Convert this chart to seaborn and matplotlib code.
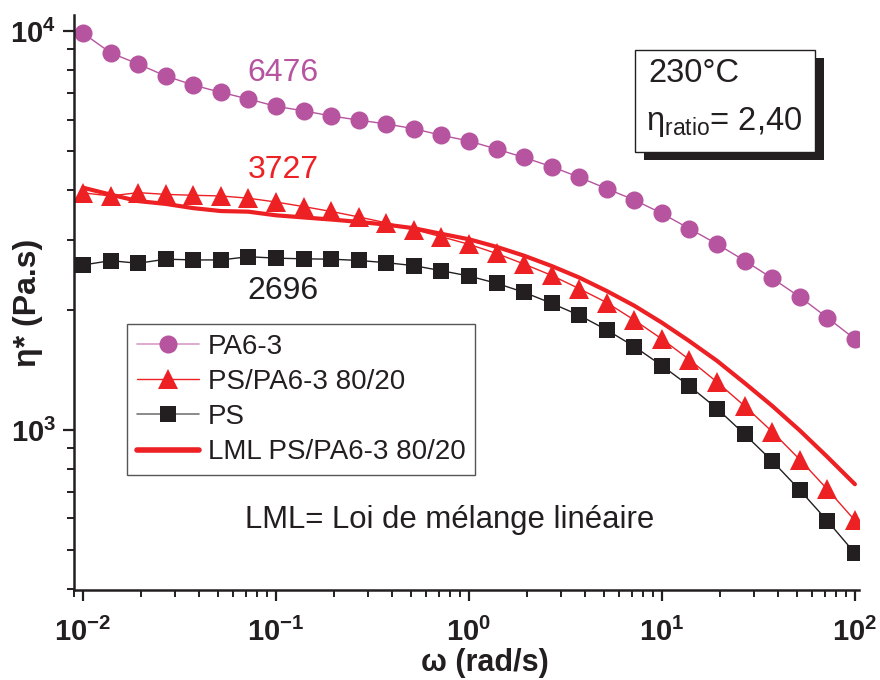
import numpy as np
import pandas as pd
import seaborn as sns
import matplotlib.pyplot as plt
from matplotlib.patches import Rectangle
from matplotlib.lines import Line2D
from matplotlib.ticker import LogLocator, NullFormatter

# angular frequency (rad/s), 7 points per decade
omega = [0.01, 0.01389, 0.01931, 0.02683, 0.03728, 0.05179, 0.07197,
         0.1, 0.1389, 0.1931, 0.2683, 0.3728, 0.5179, 0.7197,
         1.0, 1.389, 1.931, 2.683, 3.728, 5.179, 7.197,
         10.0, 13.89, 19.31, 26.83, 37.28, 51.79, 71.97, 100.0]

# complex viscosity eta* (Pa.s)
eta_pa6 = [9880, 8822, 8265, 7715, 7320, 7020, 6754, 6476, 6310, 6125,
           5980, 5850, 5690, 5480, 5300, 5060, 4820, 4570, 4300, 4025,
           3770, 3490, 3195, 2924, 2657, 2400, 2155, 1912, 1690]
eta_blend = [3930, 3860, 3935, 3895, 3875, 3860, 3810, 3727, 3630, 3530,
             3420, 3305, 3180, 3050, 2920, 2770, 2605, 2440, 2260, 2085,
             1885, 1690, 1500, 1318, 1148, 990, 843, 710, 593]
eta_ps = [2591, 2657, 2617, 2680, 2668, 2668, 2718, 2696, 2685, 2680,
          2660, 2626, 2582, 2507, 2432, 2332, 2213, 2077, 1938, 1781,
          1618, 1449, 1288, 1131, 975, 836, 707, 592, 491]
eta_lml = [4049, 3890, 3747, 3687, 3598, 3538, 3525, 3452, 3410, 3369,
           3324, 3271, 3204, 3102, 3006, 2878, 2734, 2576, 2410, 2230,
           2048, 1857, 1669, 1490, 1311, 1149, 997, 856, 731]

series_names = ["PA6-3", "PS/PA6-3 80/20", "PS", "LML PS/PA6-3 80/20"]
value_labels = ["6476", "3727", "2696"]

PURPLE = "#B6549F"
RED = "#ED2024"
BLACK = "#231F20"

sns.set_theme(style="ticks")
plt.rcParams["font.family"] = ["Liberation Sans", "DejaVu Sans"]
plt.rcParams["mathtext.fontset"] = "custom"
plt.rcParams["mathtext.rm"] = "Liberation Sans"
plt.rcParams["mathtext.it"] = "Liberation Sans:italic"
plt.rcParams["mathtext.bf"] = "Liberation Sans:bold"
plt.rcParams["axes.unicode_minus"] = False

fig = plt.figure(figsize=(8.8, 6.8), dpi=100)
W, H = 880, 680
ax = fig.add_axes([74 / W, 1 - 590 / H, (859 - 74) / W, (590 - 15) / H])

common = dict(ax=ax, estimator=None, legend=False, markeredgewidth=0)
sns.lineplot(x=omega, y=eta_pa6, color=PURPLE, lw=1.0, marker="o",
             markersize=13, markeredgecolor=PURPLE, **common)
sns.lineplot(x=omega, y=eta_ps, color=BLACK, lw=1.0, marker="s",
             markersize=12, markeredgecolor=BLACK, **common)
sns.lineplot(x=omega, y=eta_blend, color=RED, lw=1.0, marker="^",
             markersize=14, markeredgecolor=RED, **common)
sns.lineplot(x=omega, y=eta_lml, color=RED, lw=3.0, **common)

ax.set_xscale("log")
ax.set_yscale("log")
ax.set_xlim(0.00898, 105)
ax.set_ylim(397, 10970)

for axis in (ax.xaxis, ax.yaxis):
    axis.set_major_locator(LogLocator(base=10))
    axis.set_minor_locator(LogLocator(base=10, subs=np.arange(2, 10)))
    axis.set_minor_formatter(NullFormatter())

sns.despine(ax=ax)
for side in ("left", "bottom"):
    ax.spines[side].set_linewidth(1.8)
    ax.spines[side].set_color(BLACK)
ax.tick_params(which="major", direction="out", length=8, width=1.6,
               color=BLACK, labelsize=21, pad=5, labelcolor=BLACK)
ax.tick_params(axis="x", which="major", pad=12)
ax.tick_params(which="minor", direction="out", length=5, width=1.4, color=BLACK)
for lab in ax.get_xticklabels() + ax.get_yticklabels():
    lab.set_fontweight("bold")

ax.set_xlabel("ω (rad/s)", fontsize=22, fontweight="bold", color=BLACK)
ax.set_ylabel("η* (Pa.s)", fontsize=23, fontweight="bold", color=BLACK)
ax.xaxis.set_label_coords((485 - 74) / 785, (590 - 648) / 575)
ax.yaxis.set_label_coords((43 - 74) / 785, 0.5)

# values at 0.1 rad/s
ax.annotate(value_labels[0], (omega[7], eta_pa6[7]), xytext=(5, 24),
            textcoords="offset points", ha="center", va="center",
            fontsize=23, color=PURPLE)
ax.annotate(value_labels[1], (omega[7], eta_blend[7]), xytext=(5, 23),
            textcoords="offset points", ha="center", va="center",
            fontsize=23, color=RED)
ax.annotate(value_labels[2], (omega[7], eta_ps[7]), xytext=(5, -24),
            textcoords="offset points", ha="center", va="center",
            fontsize=23, color=BLACK)

handles = [
    Line2D([], [], color="#D99BCB", lw=1.2, marker="o", markersize=13,
           markerfacecolor=PURPLE, markeredgewidth=0),
    Line2D([], [], color=RED, lw=1.0, marker="^", markersize=14,
           markerfacecolor=RED, markeredgewidth=0),
    Line2D([], [], color="#777777", lw=1.2, marker="s", markersize=12,
           markerfacecolor=BLACK, markeredgewidth=0),
    Line2D([], [], color=RED, lw=4.0),
]
leg = ax.legend(handles, series_names, loc="upper left",
                bbox_to_anchor=(127 / W, 1 - 324 / H), bbox_transform=fig.transFigure,
                frameon=True, fancybox=False, fontsize=20, handlelength=2.25,
                handletextpad=0.3, labelspacing=0.33, borderpad=0.35,
                borderaxespad=0, framealpha=1)
leg.get_frame().set_edgecolor("#555555")
leg.get_frame().set_linewidth(1.0)
for t in leg.get_texts():
    t.set_color(BLACK)

fig.text(245 / W, 1 - 520 / H, "LML= Loi de mélange linéaire", fontsize=22.4,
         ha="left", va="center", color=BLACK)

# condition box with drop shadow
bx0, by0, bx1, by1 = 635, 50, 815, 152
fig.add_artist(Rectangle(((bx0 + 9) / W, 1 - (by1 + 8) / H), (bx1 - bx0) / W,
                         (by1 - by0) / H, transform=fig.transFigure,
                         facecolor=BLACK, edgecolor=BLACK, lw=0, zorder=5))
fig.add_artist(Rectangle((bx0 / W, 1 - by1 / H), (bx1 - bx0) / W,
                         (by1 - by0) / H, transform=fig.transFigure,
                         facecolor="white", edgecolor=BLACK, lw=1.0, zorder=6))
fig.text(648 / W, 1 - 74 / H, "230°C", fontsize=23.5, ha="left", va="center",
         color=BLACK, zorder=7)
fig.text(646 / W, 1 - 122 / H, r"$\mathdefault{\eta_{ratio}}$= 2,40", fontsize=23.5,
         ha="left", va="center", color=BLACK, zorder=7)

fig.savefig("out.png", dpi=100)
